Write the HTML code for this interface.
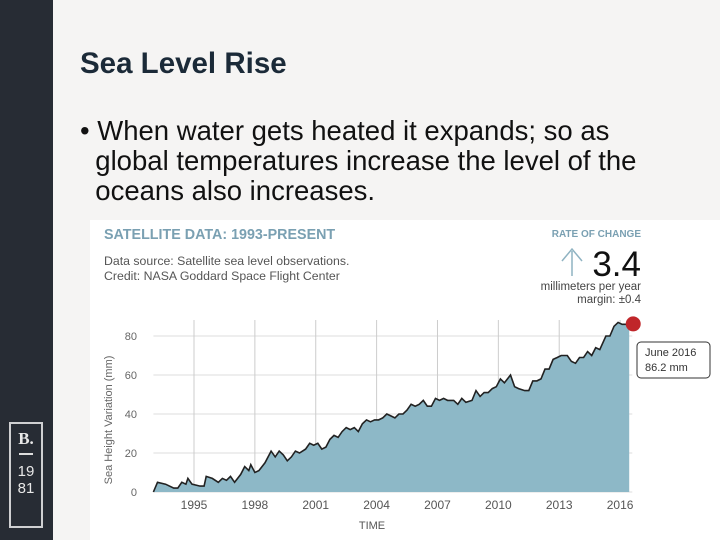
<!DOCTYPE html>
<html><head><meta charset="utf-8"><style>
body{margin:0;width:720px;height:540px;overflow:hidden;background:#f5f4f3;font-family:"Liberation Sans",sans-serif;position:relative}
#side{position:absolute;left:0;top:0;width:53px;height:540px;background:#272c34}
#logo{position:absolute;left:9px;top:422px;width:34px;height:106px;border:2px solid #cfd0d2;box-sizing:border-box;color:#e8e8e8;text-align:center;font-family:"Liberation Serif",serif}
h1{position:absolute;left:80px;top:47px;margin:0;font-size:29.5px;font-weight:bold;color:#1b2a38}
#bullet{position:absolute;left:80px;top:116px;font-size:27.5px;line-height:30px;color:#111;width:640px;white-space:nowrap}
#chart{position:absolute;left:90px;top:220px;width:630px;height:320px;background:#fff}
</style></head><body>
<div id="side"></div>
<div id="logo"><div style="font-size:17px;font-weight:bold;margin-top:5px">B.</div><div style="width:14px;height:2px;background:#ddd;margin:4px auto 8px"></div><div style="font-size:15px;line-height:17px;font-family:'Liberation Sans Narrow','Liberation Sans',sans-serif">19<br>81</div></div>
<h1>Sea Level Rise</h1>
<div id="bullet">• When water gets heated it expands; so as<br>&nbsp;&nbsp;global temperatures increase the level of the<br>&nbsp;&nbsp;oceans also increases.</div>
<svg id="chart" width="630" height="320"></svg>
<script>
const years=[1993.0,1993.2,1993.6,1994.0,1994.2,1994.4,1994.6,1994.7,1994.9,1995.3,1995.5,1995.6,1995.9,1996.2,1996.4,1996.6,1996.8,1997.0,1997.3,1997.5,1997.7,1997.8,1998.0,1998.2,1998.5,1998.8,1999.0,1999.2,1999.4,1999.6,1999.8,2000.0,2000.2,2000.5,2000.7,2000.9,2001.1,2001.3,2001.5,2001.7,2001.9,2002.1,2002.3,2002.5,2002.7,2002.9,2003.1,2003.3,2003.5,2003.7,2003.9,2004.1,2004.3,2004.5,2004.7,2004.9,2005.1,2005.3,2005.5,2005.7,2005.9,2006.1,2006.3,2006.5,2006.7,2006.9,2007.1,2007.3,2007.5,2007.8,2008.0,2008.2,2008.4,2008.7,2008.9,2009.1,2009.3,2009.5,2009.7,2009.9,2010.1,2010.3,2010.6,2010.8,2011.0,2011.3,2011.5,2011.7,2011.9,2012.1,2012.3,2012.5,2012.7,2012.9,2013.1,2013.4,2013.6,2013.8,2014.0,2014.2,2014.4,2014.6,2014.8,2015.0,2015.3,2015.5,2015.7,2015.9,2016.1,2016.3,2016.45];
const heights=[0,5,4,2,2,5,4,7,4,3,3,8,7,5,7,6,8,5,9,13,11,14,10,11,15,21,18,21,19,16,18,21,20,22,25,24,25,22,23,27,29,28,31,33,32,33,31,35,37,36,37,37,38,40,39,38,40,40,42,45,44,45,47,44,44,48,47,48,47,47,45,48,46,47,52,49,51,51,53,54,58,56,60,54,53,52,52,57,57,58,63,63,68,69,70,70,67,66,69,69,72,70,74,73,80,80,85,87,86,86,86.2];
const yTicks=[0,20,40,60,80];
const xTicks=[1995,1998,2001,2004,2007,2010,2013,2016];
const ns="http://www.w3.org/2000/svg",svg=document.getElementById('chart');
const X=y=>194+(y-1995)*20.29-90, Y=v=>492-v*1.95-220;
function mk(t,a,txt){const e=document.createElementNS(ns,t);for(const k in a)e.setAttribute(k,a[k]);if(txt!=null)e.textContent=txt;svg.appendChild(e);return e;}
let e;
e=mk('text',{x:14,y:19,fill:'#7aa0b2','font-size':14.3,'font-weight':'bold'},'SATELLITE DATA: 1993-PRESENT');

e=mk('text',{x:14,y:45,fill:'#555','font-size':12.3},'Data source: Satellite sea level observations.');

e=mk('text',{x:14,y:60,fill:'#555','font-size':12.3},'Credit: NASA Goddard Space Flight Center');

e=mk('text',{x:551,y:17,fill:'#7aa0b2','font-size':10,'font-weight':'bold','text-anchor':'end'},'RATE OF CHANGE');

e=mk('text',{x:551,y:56,fill:'#111','font-size':35,'text-anchor':'end'},'3.4');

e=mk('path',{d:'M482 56 V31 M472 41 L482 29 L492 41',stroke:'#8fb3c2','stroke-width':1.5,fill:'none'});

e=mk('text',{x:551,y:70,fill:'#444','font-size':11.5,'text-anchor':'end'},'millimeters per year');

e=mk('text',{x:551,y:83,fill:'#444','font-size':11.5,'text-anchor':'end'},'margin: ±0.4');

for(const t of yTicks){
 e=mk('line',{x1:X(1993),x2:X(2016.6),y1:Y(t),y2:Y(t),stroke:'#ddd'});
 
 e=mk('text',{x:47,y:Y(t)+4,fill:'#666','font-size':11,'text-anchor':'end'},t);
 
}
for(const t of xTicks){
 e=mk('line',{x1:X(t),x2:X(t),y1:100,y2:Y(0),stroke:'#ccc'});
 
 e=mk('text',{x:X(t),y:289,fill:'#555','font-size':12,'text-anchor':'middle'},t);
 
}
let d='';years.forEach((y,i)=>{d+=(i?'L':'M')+X(y).toFixed(1)+' '+Y(heights[i]).toFixed(1)});
const last=years.length-1;
e=mk('path',{d:d+'L'+X(years[last])+' '+Y(0)+'L'+X(years[0])+' '+Y(0)+'Z',fill:'#8db8c7'});

e=mk('path',{d:d,fill:'none',stroke:'#222','stroke-width':1.6});

e=mk('circle',{cx:X(years[last])+4,cy:Y(heights[last]),r:7.5,fill:'#c0262a'});

e=mk('rect',{x:547,y:122,width:73,height:36,rx:4,fill:'#fff',stroke:'#333'});

e=mk('text',{x:555,y:136,fill:'#333','font-size':11},'June 2016');

e=mk('text',{x:555,y:151,fill:'#333','font-size':11},heights[last]+' mm');

e=mk('text',{x:282,y:309,fill:'#555','font-size':11,'text-anchor':'middle'},'TIME');

e=mk('text',{x:0,y:0,fill:'#666','font-size':11,'text-anchor':'middle',transform:'translate(22,200) rotate(-90)'},'Sea Height Variation (mm)');

</script>
</body></html>
